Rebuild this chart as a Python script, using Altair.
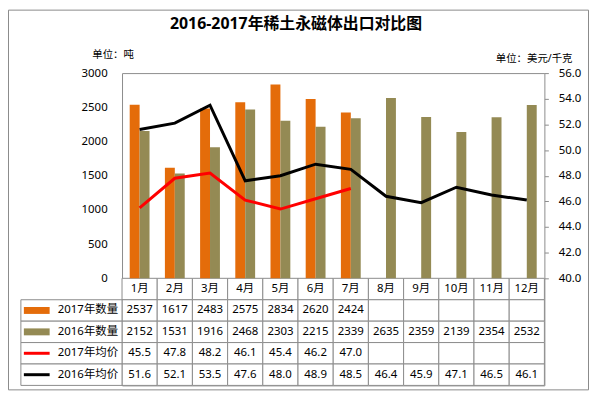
import altair as alt
import pandas as pd

# ---------------- data ----------------
months = ["1月", "2月", "3月", "4月", "5月", "6月", "7月", "8月", "9月", "10月", "11月", "12月"]
qty_2017 = [2537, 1617, 2483, 2575, 2834, 2620, 2424]
qty_2016 = [2152, 1531, 1916, 2468, 2303, 2215, 2339, 2635, 2359, 2139, 2354, 2532]
price_2017 = [45.5, 47.8, 48.2, 46.1, 45.4, 46.2, 47.0]
price_2016 = [51.6, 52.1, 53.5, 47.6, 48.0, 48.9, 48.5, 46.4, 45.9, 47.1, 46.5, 46.1]
series_names = ["2017年数量", "2016年数量", "2017年均价", "2016年均价"]
left_ticks = [0, 500, 1000, 1500, 2000, 2500, 3000]
right_ticks = [40, 42, 44, 46, 48, 50, 52, 54, 56]
title_text = "2016-2017年稀土永磁体出口对比图"
left_unit = "单位：吨"
right_unit = "单位：美元/千克"

# ---------------- style / layout ----------------
ORANGE = "#E46C0A"
OLIVE = "#948A54"
RED = "#FF0000"
BLACK = "#000000"
GRID = "#8c8c8c"
FONT = "Noto Sans, Noto Sans CJK SC, sans-serif"
FS = 11.5
W = 426
PH = 207          # plot area height
RH = 21.6         # table row height
H = PH + 5 * RH   # whole group height

row_domain = ["月份"] + series_names
series_colors = [ORANGE, OLIVE, RED, BLACK]
series_widths = [7, 7, 3, 3]

# ---------------- frames ----------------
bars_df = pd.DataFrame(
    [{"month": months[i], "series": series_names[0], "value": v, "c": ORANGE} for i, v in enumerate(qty_2017)]
    + [{"month": months[i], "series": series_names[1], "value": v, "c": OLIVE} for i, v in enumerate(qty_2016)]
)
lines_df = pd.DataFrame(
    [{"month": months[i], "series": series_names[2], "value": v, "c": RED} for i, v in enumerate(price_2017)]
    + [{"month": months[i], "series": series_names[3], "value": v, "c": BLACK} for i, v in enumerate(price_2016)]
)

table_rows = []
for i, m in enumerate(months):
    table_rows.append({"month": m, "row": "月份", "t": m})
    table_rows.append({"month": m, "row": series_names[0], "t": str(qty_2017[i]) if i < len(qty_2017) else ""})
    table_rows.append({"month": m, "row": series_names[1], "t": str(qty_2016[i])})
    table_rows.append({"month": m, "row": series_names[2], "t": f"{price_2017[i]:.1f}" if i < len(price_2017) else ""})
    table_rows.append({"month": m, "row": series_names[3], "t": f"{price_2016[i]:.1f}"})
table_df = pd.DataFrame(table_rows)

legend_df = pd.DataFrame({"row": series_names, "c": series_colors, "w": series_widths})

x_scale = alt.Scale(domain=months, paddingInner=0, paddingOuter=0)
x_enc = alt.X("month:N", scale=x_scale, axis=None)
row_scale = alt.Scale(domain=row_domain, range=[PH, H], paddingInner=0, paddingOuter=0)
y_row = alt.Y("row:N", scale=row_scale, axis=None)

# ---------------- table ----------------
cells = alt.Chart(table_df).mark_rect(fill="white", stroke=GRID, strokeWidth=1).encode(x=x_enc, y=y_row)
cell_text = alt.Chart(table_df).mark_text(font=FONT, fontSize=FS, color="#000").encode(
    x=x_enc, y=y_row, text="t:N"
)
leg_cells = alt.Chart(legend_df).mark_rect(fill="white", stroke=GRID, strokeWidth=1).encode(
    x=alt.value(-102), x2=alt.value(0), y=y_row
)
leg_text = alt.Chart(legend_df).mark_text(font=FONT, fontSize=FS, color="#000", align="right").encode(
    x=alt.value(-4), y=y_row, text="row:N"
)
leg_swatch = alt.Chart(legend_df).mark_rule().encode(
    x=alt.value(-99), x2=alt.value(-73), y=y_row,
    color=alt.Color("c:N", scale=None),
    strokeWidth=alt.StrokeWidth("w:Q", scale=None),
)
table = alt.layer(cells, cell_text, leg_cells, leg_text, leg_swatch)

# ---------------- bars ----------------
bars = alt.Chart(bars_df).mark_bar().encode(
    x=x_enc,
    xOffset=alt.XOffset("series:N", scale=alt.Scale(domain=series_names[:2], paddingInner=0, paddingOuter=0.775)),
    y=alt.Y(
        "value:Q",
        scale=alt.Scale(domain=[0, 3000], range=[PH, 0], nice=False),
        axis=alt.Axis(values=left_ticks, format="d", title=None, domain=False, ticks=False, tickSize=0,
                      grid=False, labelPadding=15, labelFont=FONT, labelFontSize=FS, labelColor="#000"),
    ),
    color=alt.Color("c:N", scale=None),
)

# ---------------- lines ----------------
lines = alt.Chart(lines_df).mark_line(strokeWidth=3).encode(
    x=x_enc,
    y=alt.Y(
        "value:Q",
        scale=alt.Scale(domain=[40, 56], range=[PH, 0], nice=False, zero=False),
        axis=alt.Axis(orient="right", values=right_ticks, format=".1f", title=None, domain=False,
                      ticks=True, tickSize=4, tickColor=GRID, grid=False, labelPadding=10,
                      labelFont=FONT, labelFontSize=FS, labelColor="#000"),
    ),
    color=alt.Color("c:N", scale=None),
    detail="series:N",
)

# ---------------- titles / units / outer frame ----------------
title = alt.Chart(pd.DataFrame({"t": [title_text]})).mark_text(
    font=FONT, fontSize=16, fontWeight="bold", color="#000", align="center", baseline="middle"
).encode(x=alt.value(175.5), y=alt.value(-49), text="t:N")
unit_l = alt.Chart(pd.DataFrame({"t": [left_unit]})).mark_text(
    font=FONT, fontSize=10.5, color="#000", align="left", baseline="middle"
).encode(x=alt.value(-30), y=alt.value(-18), text="t:N")
unit_r = alt.Chart(pd.DataFrame({"t": [right_unit]})).mark_text(
    font=FONT, fontSize=10.5, color="#000", align="left", baseline="middle"
).encode(x=alt.value(377), y=alt.value(-14), text="t:N")
frame = alt.Chart(pd.DataFrame({"t": [""]})).mark_rect(fill=None, stroke="#8a8a8a", strokeWidth=1).encode(
    x=alt.value(-114.5), x2=alt.value(W + 44.5), y=alt.value(-63.5), y2=alt.value(H + 4.5)
)

chart = (
    alt.layer(frame, table, bars, lines, title, unit_l, unit_r)
    .resolve_scale(y="independent")
    .properties(
        width=W,
        height=H,
        padding={"left": 115, "top": 64, "right": 46, "bottom": 5},
        autosize=alt.AutoSizeParams(type="none"),
        background="white",
    )
    .configure_view(stroke=GRID, strokeWidth=1)
)

chart.save("out.html", embed_options={"renderer": "svg", "actions": False})
